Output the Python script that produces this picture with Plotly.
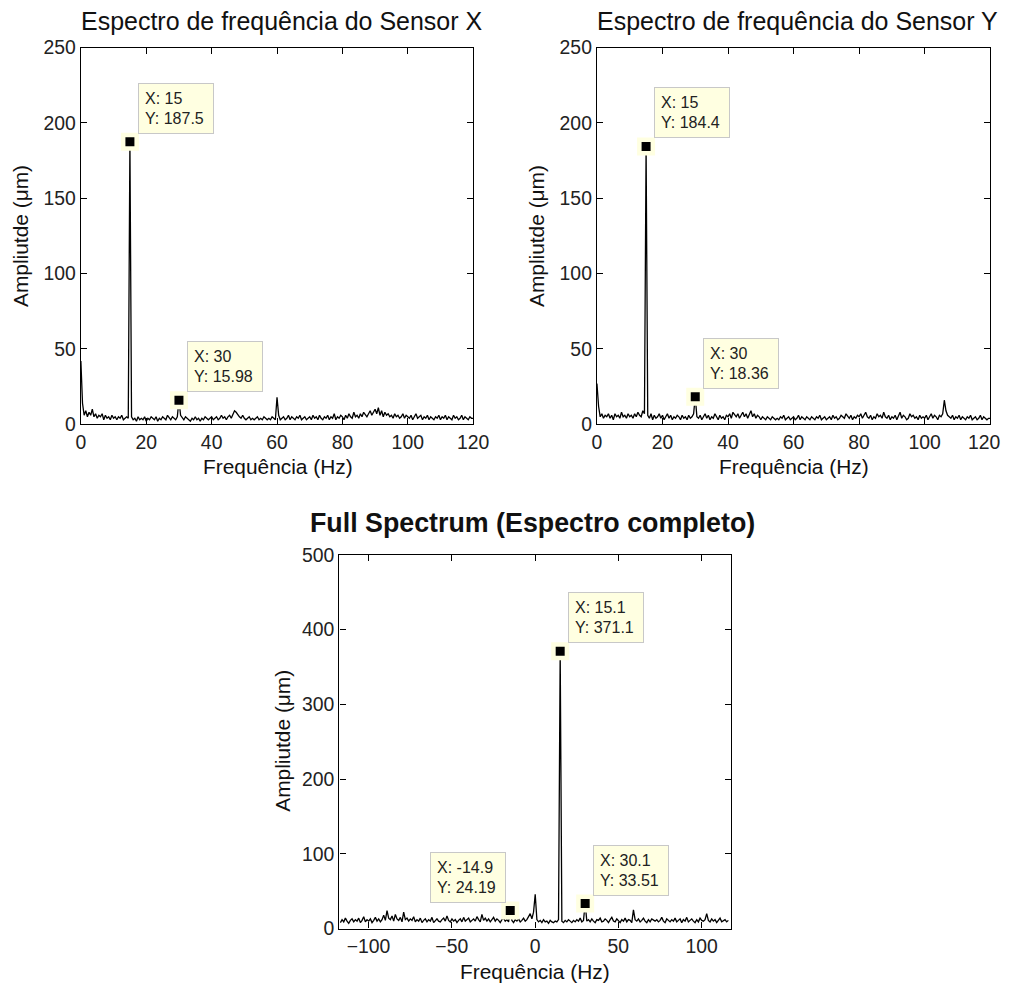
import numpy as np
import plotly.graph_objects as go

# ---------------- data ----------------
# Sensor X spectrum, 0..120 Hz, step 0.5 Hz
freq_top = np.arange(0, 120.5, 0.5)
amp_x = [
    42, 14, 6, 9, 5, 8, 6, 10, 5, 7, 4, 6, 5, 7, 3, 6, 4, 5, 3, 6,
    4, 5, 3, 5, 4, 6, 3, 4, 5, 4, 187.5, 5, 3, 4, 2, 5, 3, 4, 3, 5,
    2, 4, 3, 5, 4, 3, 5, 2, 4, 3, 5, 4, 3, 6, 4, 3, 5, 4, 3, 5,
    15.98, 6, 4, 3, 5, 4, 3, 2, 4, 3, 5, 3, 4, 2, 4, 3, 5, 4, 3, 4,
    5, 3, 4, 5, 3, 4, 6, 4, 5, 3, 5, 6, 4, 7, 9, 8, 6, 5, 4, 6,
    4, 3, 4, 5, 3, 4, 3, 4, 5, 3, 4, 3, 5, 4, 3, 4, 3, 5, 4, 3,
    18, 6, 3, 4, 5, 3, 4, 6, 3, 5, 4, 3, 5, 4, 6, 3, 4, 5, 3, 4,
    5, 3, 6, 4, 5, 3, 6, 4, 3, 5, 4, 6, 3, 5, 4, 7, 3, 5, 4, 6,
    5, 3, 6, 4, 7, 5, 4, 8, 5, 6, 4, 7, 5, 8, 6, 5, 7, 9, 6, 8,
    10, 7, 11, 6, 9, 5, 8, 6, 7, 5, 6, 4, 7, 5, 6, 4, 5, 7, 4, 6,
    5, 4, 6, 3, 5, 7, 4, 5, 6, 3, 5, 4, 6, 3, 5, 4, 3, 5, 4, 6,
    3, 5, 4, 6, 3, 5, 4, 3, 6, 4, 5, 3, 4, 6, 3, 5, 4, 3, 5, 4,
    4,
]
# Sensor Y spectrum, 0..120 Hz, step 0.5 Hz
amp_y = [
    27, 12, 5, 7, 4, 6, 5, 7, 4, 6, 3, 7, 5, 6, 4, 8, 5, 6, 4, 7,
    5, 6, 4, 7, 5, 8, 6, 5, 9, 7, 184.4, 6, 4, 7, 3, 6, 4, 5, 7, 4,
    6, 3, 5, 7, 4, 6, 3, 5, 4, 6, 5, 3, 6, 4, 5, 3, 6, 4, 5, 7,
    18.36, 5, 4, 6, 3, 5, 7, 4, 6, 3, 5, 4, 7, 5, 3, 6, 4, 5, 3, 6,
    5, 7, 4, 8, 6, 5, 7, 4, 6, 8, 5, 7, 4, 6, 9, 5, 7, 4, 6, 5,
    3, 5, 4, 3, 5, 4, 3, 5, 4, 3, 4, 3, 5, 4, 6, 3, 4, 5, 3, 4,
    5, 3, 4, 6, 3, 5, 4, 3, 5, 4, 3, 5, 4, 3, 5, 4, 6, 3, 4, 5,
    3, 4, 5, 3, 6, 4, 5, 3, 4, 6, 5, 4, 7, 5, 4, 6, 3, 5, 4, 6,
    5, 7, 4, 6, 8, 5, 4, 6, 3, 5, 4, 7, 5, 6, 4, 8, 5, 4, 6, 3,
    5, 4, 6, 3, 5, 8, 4, 6, 5, 3, 4, 7, 5, 6, 4, 5, 3, 6, 4, 5,
    4, 6, 3, 5, 7, 4, 6, 5, 3, 6, 5, 7, 16, 9, 6, 5, 4, 6, 3, 5,
    4, 6, 3, 5, 4, 3, 5, 4, 6, 3, 4, 5, 3, 4, 6, 3, 5, 4, 3, 4,
    4,
]
# Full spectrum, -116.9..116.1 Hz, step 1 Hz
freq_full = np.arange(-117, 117) + 0.1
amp_full = [
    8, 12, 9, 14, 10, 7, 11, 13, 9, 12,
    10, 14, 8, 11, 16, 9, 12, 10, 13, 8,
    11, 15, 10, 13, 9, 12, 18, 11, 24, 14,
    12, 17, 10, 19, 13, 11, 15, 9, 22, 12,
    14, 10, 13, 11, 16, 9, 12, 10, 14, 8,
    11, 13, 9, 12, 10, 15, 8, 11, 13, 10,
    9, 12, 14, 10, 17, 11, 9, 13, 10, 12,
    8, 11, 13, 9, 15, 10, 12, 14, 9, 11,
    13, 10, 16, 12, 9, 19, 11, 14, 10, 13,
    9, 12, 15, 10, 13, 11, 8, 12, 14, 10,
    12, 9, 24.19, 11, 8, 12, 10, 13, 9, 11,
    14, 10, 12, 16, 20, 13, 22, 46, 12, 9,
    11, 8, 12, 9, 10, 7, 11, 9, 8, 10,
    9, 12, 371.1, 10, 8, 11, 9, 12, 10, 8,
    11, 9, 12, 10, 14, 9, 11, 33.51, 10, 12,
    9, 13, 10, 8, 12, 11, 14, 9, 10, 13,
    11, 8, 12, 15, 10, 9, 13, 11, 8, 12,
    10, 14, 9, 12, 11, 8, 25, 12, 10, 13,
    9, 11, 14, 10, 8, 12, 9, 13, 11, 10,
    12, 9, 11, 15, 10, 8, 13, 11, 9, 12,
    10, 14, 9, 11, 13, 8, 12, 10, 15, 9,
    11, 13, 10, 8, 12, 9, 14, 11, 10, 12,
    20, 11, 9, 13, 10, 12, 8, 11, 14, 9,
    10, 12, 9, 11,
]

# data tips
tips_x_f = [15, 30]
tips_x_a = [187.5, 15.98]
tips_y_f = [15, 30]
tips_y_a = [184.4, 18.36]
tips_full_f = [15.1, -14.9, 30.1]
tips_full_a = [371.1, 24.19, 33.51]

titles = ["Espectro de frequência do Sensor X",
          "Espectro de frequência do Sensor Y",
          "<b>Full Spectrum (Espectro completo)</b>"]
ylabel = "Ampliutde (μm)"
xlabel = "Frequência (Hz)"
top_xticks = [0, 20, 40, 60, 80, 100, 120]
top_yticks = [0, 50, 100, 150, 200, 250]
full_xticks = [-100, -50, 0, 50, 100]
full_yticks = [0, 100, 200, 300, 400, 500]

# ---------------- figure ----------------
W, H = 1010, 985
# observed page -> picture mapping (scale and offset)
SC, BX, BY = 0.981, 12.0, 16.3
FONT = "Liberation Sans, Arial, sans-serif"
TIPBG = "#FFFFE1"

def px_x(t):
    return ((t - BX) / SC) / W

def px_y(t):
    return 1 - ((t - BY) / SC) / H

def fs(s):
    return s / SC

fig = go.Figure()

panels = [
    ("x", "y", freq_top, amp_x, tips_x_f, tips_x_a),
    ("x2", "y2", freq_top, amp_y, tips_y_f, tips_y_a),
    ("x3", "y3", freq_full, amp_full, tips_full_f, tips_full_a),
]
for xa, ya, fx, fy, tf, ta in panels:
    fig.add_trace(go.Scatter(x=fx, y=fy, mode="lines", xaxis=xa, yaxis=ya,
                             line=dict(color="black", width=1.3), showlegend=False,
                             hoverinfo="skip"))
    fig.add_trace(go.Scatter(x=tf, y=ta, mode="markers", xaxis=xa, yaxis=ya,
                             marker=dict(symbol="square", size=18, color=TIPBG),
                             showlegend=False, hoverinfo="skip"))
    fig.add_trace(go.Scatter(x=tf, y=ta, mode="markers", xaxis=xa, yaxis=ya,
                             marker=dict(symbol="square", size=9, color="black"),
                             showlegend=False, hoverinfo="skip"))

TICKFONT = dict(family=FONT, size=fs(19), color="#222")
axis_common = dict(showline=True, linecolor="black", linewidth=1.3, mirror="ticks",
                   ticks="inside", ticklen=6, tickcolor="black", showgrid=False,
                   zeroline=False, tickfont=TICKFONT)

# last label of the right panel is written separately so it stays inside the page
x2_ticktext = [str(v) for v in top_xticks[:-1]] + [""]

fig.update_layout(
    width=W, height=H, margin=dict(l=0, r=0, t=0, b=0),
    paper_bgcolor="white", plot_bgcolor="white",
    xaxis=dict(domain=[px_x(80), px_x(473)], range=[0, 120], tickvals=top_xticks,
               anchor="y", **axis_common),
    yaxis=dict(domain=[px_y(423), px_y(45)], range=[0, 250], tickvals=top_yticks,
               anchor="x", **axis_common),
    xaxis2=dict(domain=[px_x(597), px_x(991)], range=[0, 120], tickvals=top_xticks,
                ticktext=x2_ticktext, anchor="y2", **axis_common),
    yaxis2=dict(domain=[px_y(423), px_y(45)], range=[0, 250], tickvals=top_yticks,
                anchor="x2", **axis_common),
    xaxis3=dict(domain=[px_x(339), px_x(731)], range=[-117.5, 117.5], tickvals=full_xticks,
                anchor="y3", **axis_common),
    yaxis3=dict(domain=[px_y(929), px_y(554)], range=[0, 500], tickvals=full_yticks,
                anchor="x3", **axis_common),
)

ann = []

def label(text, xc, yc, size, angle=0):
    return dict(text=text, x=px_x(xc), y=px_y(yc), xref="paper", yref="paper",
                xanchor="center", yanchor="middle", showarrow=False, textangle=angle,
                font=dict(family=FONT, size=fs(size), color="#111"))

# titles
ann.append(label(titles[0], 281, 18, 24.5))
ann.append(label(titles[1], 798, 18, 24.5))
ann.append(label(titles[2], 532, 522, 26.3))
# axis labels
for xc, yc in [(20, 234), (537, 234), (282, 741)]:
    ann.append(label(ylabel, xc, yc, 20.5, -90))
for xc, yc in [(277, 465), (794, 465), (535, 972)]:
    ann.append(label(xlabel, xc, yc, 20.5))

# right panel's last x tick label
ann.append(dict(text=str(top_xticks[-1]), x=top_xticks[-1], y=0, xref="x2", yref="y2",
                xanchor="right", yanchor="middle", xshift=13, yshift=-17.5,
                showarrow=False, font=TICKFONT))

# data tips
def tip(xref, yref, fx, fy, left=False):
    return dict(text=f"X: {fx}<br>Y: {fy}", x=fx, y=fy, xref=xref, yref=yref,
                showarrow=False, align="left",
                xanchor="right" if left else "left", yanchor="bottom",
                xshift=-4 if left else 8, yshift=8,
                bgcolor=TIPBG, bordercolor="#C8C8C8", borderwidth=1, borderpad=6,
                width=62, height=37,
                font=dict(family=FONT, size=16, color="#222"))

for f, a in zip(tips_x_f, tips_x_a):
    ann.append(tip("x", "y", f, a))
for f, a in zip(tips_y_f, tips_y_a):
    ann.append(tip("x2", "y2", f, a))
for f, a in zip(tips_full_f, tips_full_a):
    ann.append(tip("x3", "y3", f, a, left=(f < 0)))

fig.update_layout(annotations=ann)

fig.write_html("out.html")
